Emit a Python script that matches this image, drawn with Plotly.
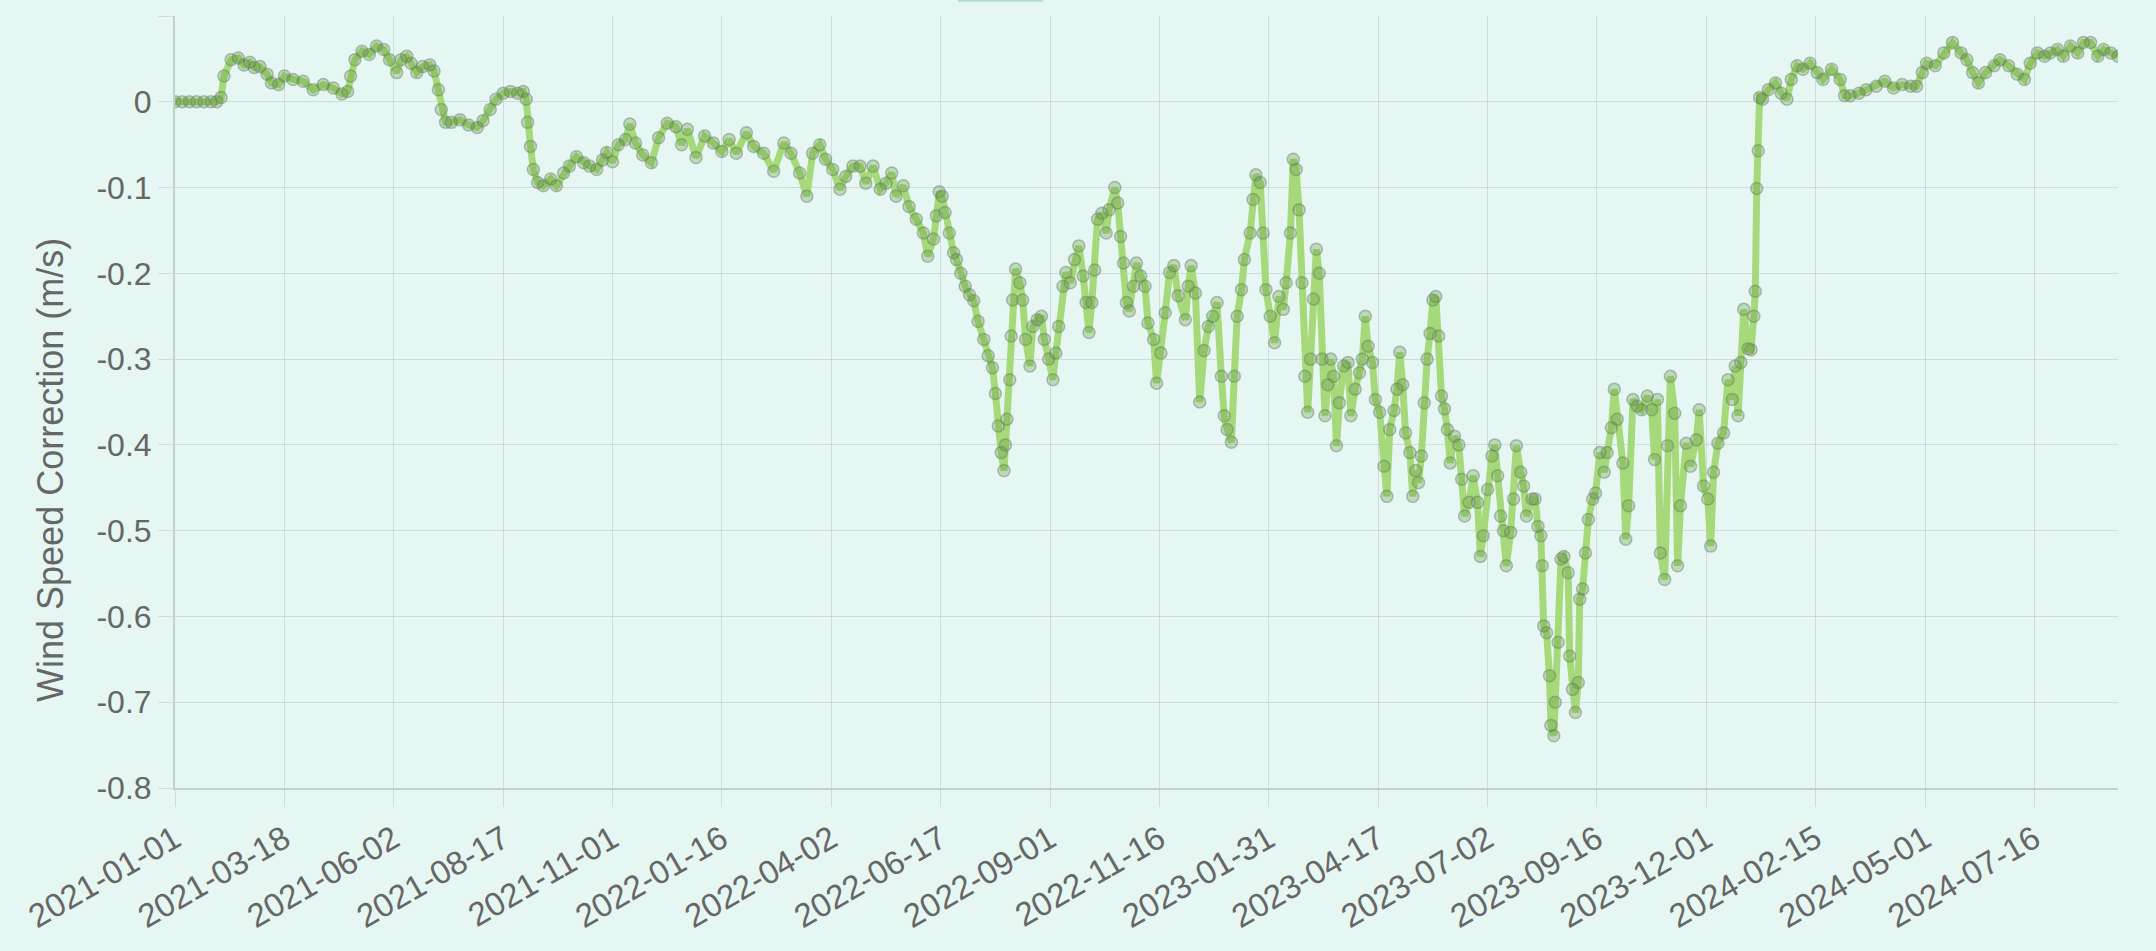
import pandas as pd
import plotly.graph_objects as go

# ---------------- data ----------------
start_date = "2021-01-01"

day_offset = [
    0, 5, 10, 15, 20, 25, 29, 32, 34, 39, 44, 48, 52, 55, 59, 64, 67, 72, 76, 82,
    89, 96, 103, 110, 116, 120, 122, 125, 130, 135, 140, 145, 149, 154, 157, 161, 164, 168, 172, 177,
    180, 183, 185, 188, 192, 198, 204, 210, 214, 219, 223, 228, 233, 238, 242, 244, 245, 247, 249, 252,
    256, 261, 265, 270, 274, 279, 284, 288, 293, 297,
    300, 304, 308, 313, 316, 320, 325, 331, 336, 342, 348, 352, 356, 362, 368, 374, 380, 385, 390, 397,
    402, 409, 416, 423, 428, 434, 439, 443, 448, 452, 457, 462, 466, 471, 476, 480, 485, 490, 494, 498,
    501, 506, 510, 515, 520, 523, 527, 529, 531, 533, 535, 538, 541, 543, 546, 549, 552, 555, 558, 562,
    565, 568, 570, 572, 574, 576,
    577, 578, 580, 581, 582, 584, 587, 589, 591, 594, 596, 599, 602, 604, 607, 610, 612, 614, 617, 619,
    622, 625, 628, 631, 633, 635, 637, 639, 641, 644, 647, 649, 653, 655, 657, 659, 661, 663, 666, 668,
    671, 674, 676, 680, 682, 685, 688, 691, 694, 697, 702, 704, 706, 709, 712,
    715, 718, 721, 724, 727, 729, 731, 734, 736, 738, 741, 743, 747, 749, 751, 754, 756, 758, 761, 764,
    767, 770, 772, 775, 777, 779, 781, 783, 785, 787, 789, 791, 793,
    795, 797, 799, 801, 803, 805, 807, 809, 812, 815, 817, 820, 823, 825, 827, 829, 832, 834, 837, 840,
    842, 844, 847, 849, 851, 853, 855, 858, 860, 862, 864, 866, 868, 870, 872, 874, 876, 878, 880, 882,
    884, 886, 889, 892, 894, 896, 899, 902, 905, 907, 909, 912, 915, 917, 919, 921,
    923, 925, 928, 930, 932, 935, 937, 939, 943, 945, 947, 949, 950, 951, 953, 955, 956, 958, 959, 961,
    963, 965, 968, 969, 971, 973, 975, 976, 978, 980, 982, 985, 987, 990, 993, 995, 998, 1000, 1002, 1006,
    1008, 1010, 1013, 1016, 1019, 1023, 1026, 1028, 1030, 1032, 1035, 1037, 1039, 1042, 1044, 1046, 1050, 1053, 1057, 1059,
    1062, 1065, 1067, 1069, 1072, 1076, 1079, 1082, 1084, 1086, 1088, 1090, 1093, 1095, 1097, 1098, 1099, 1100,
    1101, 1103, 1107, 1112, 1116, 1120, 1123, 1127, 1131, 1136, 1141, 1145, 1151, 1157, 1160, 1164, 1170, 1175, 1182, 1188,
    1194, 1200, 1206, 1210, 1214, 1217, 1223, 1229, 1235, 1241, 1245, 1249, 1253, 1258, 1264, 1268, 1274, 1280, 1285, 1289,
    1294, 1299, 1303, 1308, 1312, 1317, 1322, 1326, 1331, 1336, 1340, 1345, 1350,
]

correction = [
    0.0, 0.0, 0.0, 0.0, 0.0, 0.0, 0.0, 0.005, 0.030, 0.049, 0.051, 0.043, 0.046, 0.040, 0.041, 0.032, 0.022, 0.020, 0.030, 0.026,
    0.024, 0.014, 0.020, 0.016, 0.009, 0.012, 0.030, 0.049, 0.059, 0.055, 0.065, 0.061, 0.049, 0.034, 0.049, 0.053, 0.045, 0.034, 0.041, 0.043,
    0.036, 0.014, -0.009, -0.024, -0.024, -0.021, -0.027, -0.030, -0.022, -0.009, 0.003, 0.010, 0.012, 0.010, 0.012, 0.003, -0.024, -0.052, -0.079, -0.094,
    -0.098, -0.090, -0.098, -0.083, -0.075, -0.064, -0.071, -0.075, -0.079, -0.068,
    -0.059, -0.070, -0.050, -0.044, -0.026, -0.048, -0.062, -0.071, -0.042, -0.025, -0.029, -0.050, -0.032, -0.065, -0.040, -0.048, -0.058, -0.044, -0.060, -0.036,
    -0.052, -0.060, -0.081, -0.048, -0.060, -0.083, -0.110, -0.060, -0.050, -0.067, -0.079, -0.102, -0.087, -0.075, -0.075, -0.095, -0.075, -0.102, -0.095, -0.083,
    -0.110, -0.098, -0.122, -0.137, -0.153, -0.180, -0.160, -0.133, -0.105, -0.110, -0.129, -0.153, -0.176, -0.184, -0.200, -0.215, -0.225, -0.232, -0.256, -0.277,
    -0.296, -0.310, -0.340, -0.378, -0.409, -0.430,
    -0.400, -0.370, -0.324, -0.273, -0.231, -0.195, -0.211, -0.231, -0.277, -0.308, -0.262, -0.254, -0.250, -0.277, -0.300, -0.324, -0.293, -0.262, -0.215, -0.199,
    -0.211, -0.184, -0.168, -0.203, -0.234, -0.269, -0.234, -0.196, -0.137, -0.130, -0.153, -0.126, -0.100, -0.118, -0.157, -0.188, -0.234, -0.244, -0.215, -0.188,
    -0.203, -0.215, -0.258, -0.277, -0.328, -0.293, -0.246, -0.199, -0.191, -0.226, -0.254, -0.215, -0.191, -0.223, -0.350,
    -0.290, -0.262, -0.250, -0.234, -0.320, -0.366, -0.382, -0.397, -0.320, -0.250, -0.219, -0.184, -0.153, -0.114, -0.085, -0.094, -0.153, -0.219, -0.250, -0.281,
    -0.227, -0.242, -0.211, -0.153, -0.067, -0.079, -0.126, -0.211, -0.320, -0.362, -0.300, -0.230, -0.172,
    -0.200, -0.300, -0.366, -0.330, -0.300, -0.320, -0.401, -0.351, -0.308, -0.304, -0.366, -0.335, -0.316, -0.300, -0.250, -0.285, -0.304, -0.347, -0.362, -0.425,
    -0.460, -0.382, -0.360, -0.335, -0.292, -0.330, -0.386, -0.409, -0.460, -0.430, -0.444, -0.413, -0.351, -0.300, -0.270, -0.231, -0.227, -0.273, -0.343, -0.358,
    -0.382, -0.421, -0.390, -0.400, -0.440, -0.483, -0.467, -0.436, -0.467, -0.530, -0.506, -0.452, -0.413, -0.400, -0.436, -0.483,
    -0.500, -0.541, -0.502, -0.463, -0.401, -0.432, -0.448, -0.483, -0.463, -0.463, -0.495, -0.506, -0.541, -0.611, -0.619, -0.669, -0.727, -0.739, -0.700, -0.630,
    -0.533, -0.530, -0.549, -0.646, -0.685, -0.712, -0.677, -0.580, -0.568, -0.526, -0.487, -0.463, -0.456, -0.409, -0.432, -0.409, -0.380, -0.335, -0.370, -0.421,
    -0.510, -0.471, -0.347, -0.355, -0.359, -0.343, -0.359, -0.417, -0.347, -0.526, -0.557, -0.401, -0.320, -0.363, -0.541, -0.471, -0.398, -0.425, -0.394, -0.359,
    -0.448, -0.463, -0.518, -0.432, -0.398, -0.386, -0.324, -0.347, -0.308, -0.366, -0.304, -0.242, -0.288, -0.289, -0.250, -0.221, -0.101, -0.057,
    0.005, 0.003, 0.014, 0.022, 0.010, 0.003, 0.026, 0.042, 0.038, 0.045, 0.034, 0.026, 0.038, 0.026, 0.007, 0.007, 0.010, 0.014, 0.018, 0.024,
    0.016, 0.020, 0.018, 0.018, 0.034, 0.045, 0.042, 0.057, 0.069, 0.057, 0.049, 0.034, 0.022, 0.034, 0.042, 0.049, 0.042, 0.032, 0.026, 0.045,
    0.057, 0.053, 0.057, 0.061, 0.053, 0.065, 0.057, 0.069, 0.069, 0.053, 0.061, 0.057, 0.053,
]

tick_labels = [
    "2021-01-01", "2021-03-18", "2021-06-02", "2021-08-17", "2021-11-01", "2022-01-16",
    "2022-04-02", "2022-06-17", "2022-09-01", "2022-11-16", "2023-01-31", "2023-04-17",
    "2023-07-02", "2023-09-16", "2023-12-01", "2024-02-15", "2024-05-01", "2024-07-16",
]
last_label = "2024-09-12"

y_tick_values = [0.1, 0.0, -0.1, -0.2, -0.3, -0.4, -0.5, -0.6, -0.7, -0.8]
y_tick_labels = ["0.1", "0", "-0.1", "-0.2", "-0.3", "-0.4", "-0.5", "-0.6", "-0.7", "-0.8"]
y_title = "Wind Speed Correction (m/s)"

# ---------------- figure ----------------
dates = pd.Timestamp(start_date) + pd.to_timedelta(day_offset, unit="D")

BG = "#e6f6f2"
GRID = "rgba(0,0,0,0.1)"
TXT = "#666666"
FONT = "Liberation Sans, Arial, Helvetica, sans-serif"

fig = go.Figure()
fig.add_trace(go.Scatter(
    x=dates, y=correction, mode="lines+markers",
    line=dict(color="#a6d97a", width=7),
    marker=dict(size=12, color="rgba(95,145,65,0.30)",
                line=dict(color="rgba(100,125,95,0.45)", width=1.5)),
    hoverinfo="skip", showlegend=False,
))

fig.update_layout(
    width=2156, height=951,
    margin=dict(l=175, r=38, t=16, b=163, autoexpand=False),
    paper_bgcolor=BG, plot_bgcolor=BG,
    font=dict(family=FONT, size=32, color=TXT),
    showlegend=False,
)

fig.update_xaxes(
    type="date",
    range=[pd.Timestamp(start_date), pd.Timestamp(last_label)],
    tickmode="array", tickvals=pd.to_datetime(tick_labels), ticktext=tick_labels,
    tickangle=-30, tickfont=dict(size=33, color=TXT),
    showgrid=True, gridcolor=GRID, gridwidth=1,
    ticks="outside", ticklen=17, tickcolor=GRID, tickwidth=1,
    showline=True, linecolor="rgba(0,0,0,0.15)", linewidth=2,
    zeroline=False, automargin=False,
)
fig.update_yaxes(
    range=[-0.8, 0.1],
    tickmode="array", tickvals=y_tick_values, ticktext=y_tick_labels,
    tickfont=dict(size=32, color=TXT),
    showgrid=True, gridcolor=GRID, gridwidth=1,
    ticks="outside", ticklen=15, tickcolor=GRID, tickwidth=1,
    showline=True, linecolor="rgba(0,0,0,0.15)", linewidth=2,
    zeroline=False, automargin=False,
)

fig.add_annotation(
    text=y_title, xref="paper", yref="paper",
    x=-0.0638, y=0.412, xanchor="center", yanchor="middle",
    textangle=-90, showarrow=False,
    font=dict(family=FONT, size=36, color=TXT),
)

# sliver of the legend box cut off at the top edge
fig.add_shape(type="rect", xref="paper", yref="paper",
              x0=0.403, x1=0.4467, y0=1.0185, y1=1.04,
              fillcolor="#b3dccf", line=dict(width=0))

fig.write_html(
    "out.html",
    config={"displayModeBar": False},
    post_script="document.body.style.margin='0';document.body.style.overflow='hidden';",
)
